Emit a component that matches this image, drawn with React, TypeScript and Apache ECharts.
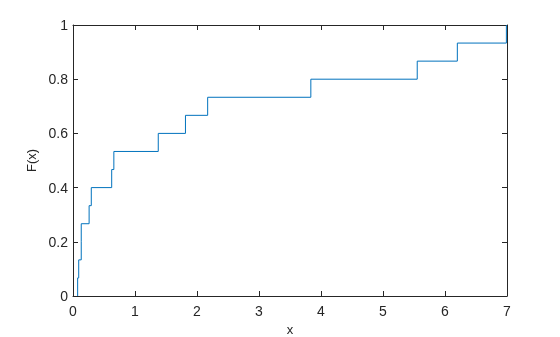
import React, { useEffect, useRef } from "react";
import * as echarts from "echarts";

// Sorted sample values (jump locations of the empirical CDF)
const sampleX = [0.075, 0.092, 0.133, 0.133, 0.26, 0.295, 0.624, 0.659, 1.375, 1.814, 2.172, 3.836, 5.552, 6.199, 6.99];
// Empirical CDF levels after each jump
const cdfLevels = [1 / 15, 2 / 15, 3 / 15, 4 / 15, 5 / 15, 6 / 15, 7 / 15, 8 / 15, 9 / 15, 10 / 15, 11 / 15, 12 / 15, 13 / 15, 14 / 15, 1];
const xTicks = [0, 1, 2, 3, 4, 5, 6, 7];
const yTicks = [0, 0.2, 0.4, 0.6, 0.8, 1];

export default function App() {
  const ref = useRef<HTMLDivElement>(null);
  useEffect(() => {
    if (!ref.current) return;
    const chart = echarts.init(ref.current, undefined, { renderer: "svg" });
    const pts: number[][] = [[sampleX[0], 0]];
    sampleX.forEach((x, i) => pts.push([x, cdfLevels[i]]));
    const axisColor = "#262626";
    const font = "'Liberation Sans', Arial, Helvetica, sans-serif";
    const common = {
      axisLine: { show: true, onZero: false, lineStyle: { color: axisColor, width: 1 } },
      axisTick: { show: true, inside: true, length: 5, lineStyle: { color: axisColor } },
      splitLine: { show: false },
    };
    chart.setOption({
      animation: false,
      grid: { left: 73, right: 53, top: 25, bottom: 41, containLabel: false, outerBoundsMode: "none" },
      xAxis: [
        {
          type: "value",
          min: 0,
          max: 7,
          interval: 1,
          position: "bottom",
          name: "x",
          nameLocation: "middle",
          nameGap: 27,
          nameTextStyle: { color: axisColor, fontSize: 13, lineHeight: 13, fontFamily: font },
          axisLabel: {
            color: axisColor,
            fontSize: 14,
            fontFamily: font,
            margin: 8,
            formatter: (v: number) => (xTicks.includes(v) ? String(v) : ""),
          },
          ...common,
        },
        {
          type: "value",
          min: 0,
          max: 7,
          interval: 1,
          position: "top",
          axisLabel: { show: false },
          ...common,
        },
      ],
      yAxis: [
        {
          type: "value",
          min: 0,
          max: 1,
          interval: 0.2,
          position: "left",
          name: "F(x)",
          nameLocation: "middle",
          nameGap: 25,
          nameRotate: 90,
          nameTextStyle: { color: axisColor, fontSize: 13, lineHeight: 13, fontFamily: font },
          axisLabel: {
            color: axisColor,
            fontSize: 14,
            fontFamily: font,
            margin: 5,
            formatter: (v: number) => {
              const t = yTicks.find((y) => Math.abs(y - v) < 1e-9);
              return t === undefined ? "" : String(t);
            },
          },
          ...common,
        },
        {
          type: "value",
          min: 0,
          max: 1,
          interval: 0.2,
          position: "right",
          axisLabel: { show: false },
          ...common,
        },
      ],
      series: [
        {
          type: "line",
          step: "end",
          data: pts,
          showSymbol: false,
          lineStyle: { color: "#0072BD", width: 1 },
          xAxisIndex: 0,
          yAxisIndex: 0,
        },
      ],
    });
    return () => chart.dispose();
  }, []);
  return <div ref={ref} style={{ position: "fixed", left: 0, top: 0, width: 560, height: 337 }} />;
}
